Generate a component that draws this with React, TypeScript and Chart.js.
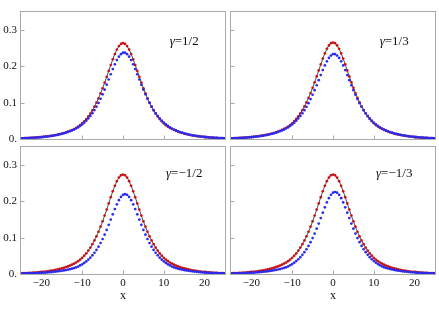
import React, { useEffect, useRef } from "react";
import { Chart, registerables } from "chart.js";

Chart.register(...registerables);

// ---------- data ----------
const xValues = [-25,-24.5,-24,-23.5,-23,-22.5,-22,-21.5,-21,-20.5,-20,-19.5,-19,-18.5,-18,-17.5,-17,-16.5,-16,-15.5,-15,-14.5,-14,-13.5,-13,-12.5,-12,-11.5,-11,-10.5,-10,-9.5,-9,-8.5,-8,-7.5,-7,-6.5,-6,-5.5,-5,-4.5,-4,-3.5,-3,-2.5,-2,-1.5,-1,-0.5,0,0.5,1,1.5,2,2.5,3,3.5,4,4.5,5,5.5,6,6.5,7,7.5,8,8.5,9,9.5,10,10.5,11,11.5,12,12.5,13,13.5,14,14.5,15,15.5,16,16.5,17,17.5,18,18.5,19,19.5,20,20.5,21,21.5,22,22.5,23,23.5,24,24.5,25];

const xTicks = [-20, -10, 0, 10, 20];
const xTickLabels = ["\u221220", "\u221210", "0", "10", "20"];
const yTicks = [0, 0.1, 0.2, 0.3];
const yTickLabels = ["0.", "0.1", "0.2", "0.3"];
const gammaLabels = ["=1/2", "=1/3", "=\u22121/2", "=\u22121/3"];

// gamma = 1/2 (top left)
const redTL = [.0019,.0021,.0024,.0026,.0029,.0032,.0036,.0040,.0044,.0049,.0054,.0060,.0066,.0073,.0081,.0090,.0099,.0110,.0122,.0135,.0149,.0165,.0183,.0203,.0224,.0248,.0275,.0305,.0341,.0382,.0431,.0487,.0550,.0622,.0702,.0791,.0891,.1001,.1122,.1255,.1398,.1551,.1711,.1875,.2039,.2197,.2341,.2465,.2560,.2620,.2640,.2620,.2560,.2465,.2341,.2197,.2039,.1875,.1711,.1551,.1398,.1255,.1122,.1001,.0891,.0791,.0702,.0622,.0550,.0487,.0431,.0382,.0341,.0305,.0275,.0248,.0224,.0203,.0183,.0165,.0149,.0135,.0122,.0110,.0099,.0090,.0081,.0073,.0066,.0060,.0054,.0049,.0044,.0040,.0036,.0032,.0029,.0026,.0024,.0021,.0019];
const blueTL = [.0017,.0020,.0023,.0025,.0028,.0031,.0034,.0038,.0042,.0046,.0051,.0057,.0063,.0069,.0077,.0085,.0094,.0104,.0116,.0128,.0142,.0157,.0174,.0192,.0213,.0236,.0261,.0290,.0323,.0360,.0402,.0451,.0506,.0568,.0637,.0713,.0798,.0891,.0994,.1108,.1230,.1360,.1498,.1640,.1785,.1926,.2058,.2175,.2270,.2337,.2379,.2379,.2337,.2270,.2175,.2058,.1926,.1785,.1640,.1498,.1360,.1230,.1108,.0994,.0891,.0798,.0713,.0637,.0568,.0506,.0451,.0402,.0360,.0323,.0290,.0261,.0236,.0213,.0192,.0174,.0157,.0142,.0128,.0116,.0104,.0094,.0085,.0077,.0069,.0063,.0057,.0051,.0046,.0042,.0038,.0034,.0031,.0028,.0025,.0023,.0020];

// gamma = 1/3 (top right)
const redTR = [.0019,.0021,.0024,.0026,.0029,.0032,.0036,.0040,.0044,.0049,.0054,.0060,.0067,.0074,.0082,.0091,.0100,.0111,.0123,.0136,.0150,.0166,.0184,.0205,.0226,.0250,.0277,.0307,.0344,.0385,.0434,.0491,.0554,.0627,.0707,.0797,.0898,.1009,.1131,.1265,.1409,.1563,.1724,.1889,.2054,.2214,.2359,.2484,.2579,.2640,.2660,.2640,.2579,.2484,.2359,.2214,.2054,.1889,.1724,.1563,.1409,.1265,.1131,.1009,.0898,.0797,.0707,.0627,.0554,.0491,.0434,.0385,.0344,.0307,.0277,.0250,.0226,.0205,.0184,.0166,.0150,.0136,.0123,.0111,.0100,.0091,.0082,.0074,.0067,.0060,.0054,.0049,.0044,.0040,.0036,.0032,.0029,.0026,.0024,.0021,.0019];
const blueTR = [.0017,.0020,.0023,.0025,.0028,.0031,.0034,.0038,.0042,.0046,.0051,.0057,.0063,.0069,.0077,.0085,.0094,.0104,.0116,.0128,.0142,.0157,.0174,.0192,.0213,.0236,.0261,.0290,.0323,.0360,.0402,.0451,.0505,.0567,.0635,.0710,.0794,.0886,.0987,.1099,.1219,.1346,.1481,.1620,.1762,.1899,.2027,.2142,.2234,.2300,.2341,.2341,.2300,.2234,.2142,.2027,.1899,.1762,.1620,.1481,.1346,.1219,.1099,.0987,.0886,.0794,.0710,.0635,.0567,.0505,.0451,.0402,.0360,.0323,.0290,.0261,.0236,.0213,.0192,.0174,.0157,.0142,.0128,.0116,.0104,.0094,.0085,.0077,.0069,.0063,.0057,.0051,.0046,.0042,.0038,.0034,.0031,.0028,.0025,.0023,.0020];

// gamma = -1/2 (bottom left)
const redBL = [.0020,.0022,.0025,.0027,.0030,.0033,.0037,.0041,.0045,.0050,.0056,.0062,.0069,.0076,.0084,.0093,.0103,.0114,.0126,.0140,.0155,.0171,.0190,.0210,.0233,.0258,.0286,.0317,.0354,.0397,.0447,.0505,.0571,.0645,.0728,.0821,.0924,.1039,.1165,.1303,.1451,.1610,.1776,.1946,.2116,.2280,.2430,.2558,.2657,.2719,.2740,.2719,.2657,.2558,.2430,.2280,.2116,.1946,.1776,.1610,.1451,.1303,.1165,.1039,.0924,.0821,.0728,.0645,.0571,.0505,.0447,.0397,.0354,.0317,.0286,.0258,.0233,.0210,.0190,.0171,.0155,.0140,.0126,.0114,.0103,.0093,.0084,.0076,.0069,.0062,.0056,.0050,.0045,.0041,.0037,.0033,.0030,.0027,.0025,.0022,.0020];
const blueBL = [.0012,.0013,.0015,.0016,.0018,.0020,.0022,.0024,.0027,.0030,.0033,.0036,.0040,.0044,.0049,.0054,.0060,.0066,.0073,.0081,.0089,.0099,.0109,.0121,.0133,.0147,.0163,.0180,.0205,.0235,.0267,.0304,.0347,.0396,.0451,.0514,.0585,.0664,.0754,.0854,.0964,.1084,.1215,.1354,.1499,.1645,.1788,.1920,.2035,.2124,.2181,.2200,.2181,.2124,.2035,.1920,.1788,.1645,.1499,.1354,.1215,.1084,.0964,.0854,.0754,.0664,.0585,.0514,.0451,.0396,.0347,.0304,.0267,.0235,.0205,.0180,.0163,.0147,.0133,.0121,.0109,.0099,.0089,.0081,.0073,.0066,.0060,.0054,.0049,.0044,.0040,.0036,.0033,.0030,.0027,.0024,.0022,.0020,.0018,.0016,.0015];

// gamma = -1/3 (bottom right)
const redBR = [.0020,.0022,.0025,.0027,.0030,.0033,.0037,.0041,.0045,.0050,.0056,.0062,.0069,.0076,.0084,.0093,.0103,.0114,.0126,.0140,.0155,.0171,.0190,.0210,.0233,.0258,.0286,.0317,.0354,.0397,.0447,.0505,.0571,.0645,.0728,.0821,.0924,.1039,.1165,.1303,.1451,.1610,.1776,.1946,.2116,.2280,.2430,.2558,.2657,.2719,.2740,.2719,.2657,.2558,.2430,.2280,.2116,.1946,.1776,.1610,.1451,.1303,.1165,.1039,.0924,.0821,.0728,.0645,.0571,.0505,.0447,.0397,.0354,.0317,.0286,.0258,.0233,.0210,.0190,.0171,.0155,.0140,.0126,.0114,.0103,.0093,.0084,.0076,.0069,.0062,.0056,.0050,.0045,.0041,.0037,.0033,.0030,.0027,.0025,.0022,.0020];
const blueBR = [.0012,.0013,.0015,.0016,.0018,.0021,.0023,.0025,.0028,.0031,.0034,.0037,.0041,.0045,.0050,.0055,.0062,.0068,.0075,.0083,.0091,.0102,.0112,.0124,.0137,.0151,.0167,.0185,.0211,.0241,.0274,.0312,.0356,.0407,.0463,.0528,.0601,.0682,.0775,.0877,.0990,.1114,.1248,.1391,.1540,.1690,.1837,.1972,.2091,.2182,.2241,.2260,.2241,.2182,.2091,.1972,.1837,.1690,.1540,.1391,.1248,.1114,.0990,.0877,.0775,.0682,.0601,.0528,.0463,.0407,.0356,.0312,.0274,.0241,.0211,.0185,.0167,.0151,.0137,.0124,.0112,.0102,.0091,.0083,.0075,.0068,.0062,.0055,.0050,.0045,.0041,.0037,.0034,.0031,.0028,.0025,.0023,.0021,.0018,.0016,.0015];

// ---------- layout / style ----------
const SERIF = '"Liberation Serif", "Times New Roman", serif';
const W = 439;
const H = 314;

type Panel = {
  red: number[];
  blue: number[];
  label: string;
  labelY: number;
  pad: { left: number; top: number; right: number; bottom: number };
  showX: boolean;
  showY: boolean;
};

const PANELS: Panel[] = [
  { red: redTL, blue: blueTL, label: gammaLabels[0], labelY: 0.269, pad: { left: 0, top: 12, right: 214, bottom: 175 }, showX: false, showY: true },
  { red: redTR, blue: blueTR, label: gammaLabels[1], labelY: 0.269, pad: { left: 231, top: 12, right: 4, bottom: 175 }, showX: false, showY: false },
  { red: redBL, blue: blueBL, label: gammaLabels[2], labelY: 0.278, pad: { left: 0, top: 147, right: 214, bottom: 0 }, showX: true, showY: true },
  { red: redBR, blue: blueBR, label: gammaLabels[3], labelY: 0.278, pad: { left: 231, top: 147, right: 4, bottom: 0 }, showX: true, showY: false },
];

const framePlugin = {
  id: "panelFrame",
  beforeDatasetsDraw(chart: any) {
    const { ctx, chartArea: a, scales } = chart;
    const L = Math.round(a.left) - 0.5;
    const R = Math.round(a.right) + 0.5;
    const T = Math.round(a.top) - 0.5;
    const B = Math.round(a.bottom) + 0.5;
    ctx.save();
    ctx.strokeStyle = "#a9a9a9";
    ctx.lineWidth = 1;
    ctx.strokeRect(L, T, R - L, B - T);
    ctx.beginPath();
    xTicks.forEach((v) => {
      const px = Math.round(scales.x.getPixelForValue(v)) + 0.5;
      ctx.moveTo(px, B);
      ctx.lineTo(px, B - 4);
    });
    yTicks.forEach((v) => {
      if (v === 0) return;
      const py = Math.round(scales.y.getPixelForValue(v)) + 0.5;
      ctx.moveTo(L, py);
      ctx.lineTo(L + 4, py);
    });
    ctx.stroke();
    ctx.restore();
  },
};

const gammaPlugin = {
  id: "gammaLabel",
  afterDraw(chart: any, _args: any, opts: any) {
    const { ctx, scales } = chart;
    const cx = scales.x.getPixelForValue(15);
    const cy = scales.y.getPixelForValue(opts.y);
    ctx.save();
    ctx.fillStyle = "#111";
    ctx.textBaseline = "middle";
    ctx.textAlign = "left";
    const gFont = "italic 13px " + SERIF;
    const rFont = "13px " + SERIF;
    ctx.font = gFont;
    const gw = ctx.measureText("\u03b3").width;
    ctx.font = rFont;
    const rw = ctx.measureText(opts.text).width;
    const x0 = cx - (gw + rw) / 2;
    ctx.font = gFont;
    ctx.fillText("\u03b3", x0, cy);
    ctx.font = rFont;
    ctx.fillText(opts.text, x0 + gw, cy);
    ctx.restore();
  },
};

function makeConfig(p: Panel): any {
  const pts = (arr: number[]) => xValues.map((x, i) => ({ x, y: arr[i] }));
  return {
    type: "scatter",
    data: {
      datasets: [
        { data: pts(p.blue), pointRadius: 1.35, pointBackgroundColor: "#2a2af0", pointBorderWidth: 0, showLine: false },
        { data: pts(p.red), pointRadius: 1.35, pointBackgroundColor: "#c81212", pointBorderWidth: 0, showLine: false },
        { data: pts(p.red), pointRadius: 0, showLine: true, borderColor: "#3a3a3a", borderWidth: 0.9, tension: 0 },
      ],
    },
    plugins: [framePlugin, gammaPlugin],
    options: {
      animation: false,
      responsive: false,
      devicePixelRatio: 1,
      events: [],
      layout: { padding: p.pad },
      plugins: {
        legend: { display: false },
        tooltip: { enabled: false },
        gammaLabel: { text: p.label, y: p.labelY },
      },
      scales: {
        x: {
          type: "linear",
          min: -25,
          max: 25,
          display: p.showX,
          afterBuildTicks: (s: any) => {
            s.ticks = xTicks.map((v) => ({ value: v }));
          },
          afterFit: (s: any) => {
            s.height = p.showX ? 40 : 0;
          },
          grid: { display: false, drawTicks: false, tickLength: 0 },
          border: { display: false },
          ticks: {
            autoSkip: false,
            maxRotation: 0,
            padding: 3,
            color: "#111",
            font: { family: SERIF, size: 11 },
            callback: (_v: any, i: number) => xTickLabels[i],
          },
          title: {
            display: true,
            text: "x",
            color: "#111",
            font: { family: SERIF, size: 12 },
            padding: { top: 0, bottom: 11 },
          },
        },
        y: {
          type: "linear",
          min: 0,
          max: 0.35,
          display: p.showY,
          afterBuildTicks: (s: any) => {
            s.ticks = yTicks.map((v) => ({ value: v }));
          },
          afterFit: (s: any) => {
            s.width = p.showY ? 21 : 0;
          },
          grid: { display: false, drawTicks: false, tickLength: 0 },
          border: { display: false },
          ticks: {
            autoSkip: false,
            padding: 4,
            color: "#111",
            font: { family: SERIF, size: 11 },
            callback: (_v: any, i: number) => yTickLabels[i],
          },
        },
      },
    },
  };
}

export default function App() {
  const canvases = useRef<(HTMLCanvasElement | null)[]>([]);
  useEffect(() => {
    const charts = PANELS.map((p, i) => new Chart(canvases.current[i] as HTMLCanvasElement, makeConfig(p)));
    return () => charts.forEach((c) => c.destroy());
  }, []);
  return (
    <div style={{ position: "absolute", left: 0, top: 0, width: W, height: H, background: "#fff" }}>
      {PANELS.map((_p, i) => (
        <canvas
          key={i}
          ref={(el) => {
            canvases.current[i] = el;
          }}
          width={W}
          height={H}
          style={{ position: "absolute", left: 0, top: 0, width: W, height: H }}
        />
      ))}
    </div>
  );
}
